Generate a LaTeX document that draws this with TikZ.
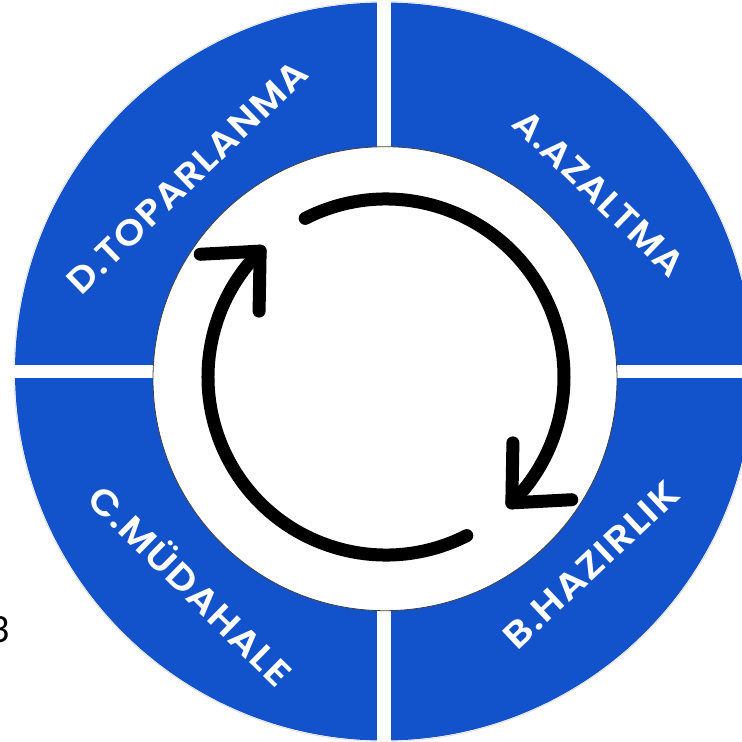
\documentclass[tikz,border=0pt]{standalone}
\usepackage{fontspec}
\usepackage{graphicx}
\newfontfamily\labfont{Poppins}[BoldFont={Poppins SemiBold}, LetterSpace=3]
\newfontfamily\numfont{Carlito}
\definecolor{ringblue}{RGB}{18,82,202}
\tikzset{
  ringlabel/.style={text=white, font=\labfont\bfseries\fontsize{36}{36}\selectfont, inner sep=0pt},
  cyclearrow/.style={line width=13pt, line cap=round, line join=round, black},
}
\begin{document}
\begin{tikzpicture}[x=1pt,y=1pt]
\useasboundingbox (-384,-370.5) rectangle (358,371.5);
\fill[white] (-384,-370.5) rectangle (358,371.5);
% blue ring
\fill[ringblue] (0,0) circle[radius=369pt];
\draw[black!12, line width=0.8pt] (0,0) circle[radius=370pt];
% white cross gaps
\fill[white] (-6.75,-380) rectangle (6.75,380);
\fill[white] (-380,-6.5) rectangle (380,6.5);
% inner disk
\filldraw[fill=white, draw=black!75, line width=0.8pt] (1,-7.2) circle[radius=232pt];
% circular arrows
\coordinate (ac) at (2,-5.5);
\draw[cyclearrow] ([shift={(ac)}]117:178pt) arc[start angle=117, end angle=-45, radius=178pt] coordinate (tip1);
\draw[cyclearrow] ([shift={(tip1)}]89:60pt) -- (tip1) -- ([shift={(tip1)}]3:60pt);
\draw[cyclearrow] ([shift={(ac)}]-63:178pt) arc[start angle=-63, end angle=-225, radius=178pt] coordinate (tip2);
\draw[cyclearrow] ([shift={(tip2)}]269:60pt) -- (tip2) -- ([shift={(tip2)}]183:60pt);
% labels
\node[ringlabel, rotate=44] (tD) at (-197,194.5) {\resizebox{318pt}{\height}{D.TOPARLANMA}};
\node[ringlabel, rotate=-44] (tA) at (215,178.5) {\resizebox{221pt}{\height}{A.AZALTMA}};
\node[ringlabel, rotate=43.2] (tB) at (207,-193.5) {\resizebox{226pt}{\height}{B.HAZIRLIK}};
\node[ringlabel, rotate=-44.5] (tC) at (-191.5,-212.5) {\resizebox{268pt}{\height}{C.MÜDAHALE}};
% cut-off figure number
\node[anchor=east, inner sep=0pt, font=\numfont\fontsize{40}{40}\selectfont] (fig) at (-374,-258.5) {3};
\end{tikzpicture}
\end{document}
